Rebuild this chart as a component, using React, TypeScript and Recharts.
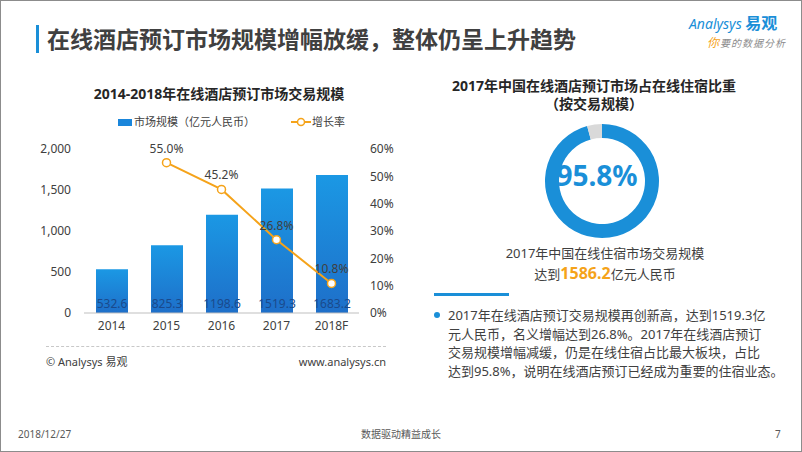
import React from 'react';
import {
  ComposedChart,
  Bar,
  Line,
  XAxis,
  YAxis,
  LabelList,
  PieChart,
  Pie,
  Cell,
} from 'recharts';

const years = ['2014', '2015', '2016', '2017', '2018F'];
const marketSize = [532.6, 825.3, 1198.6, 1519.3, 1683.2];
const growthRate: (number | null)[] = [null, 55.0, 45.2, 26.8, 10.8];
const sizeTicks = [0, 500, 1000, 1500, 2000];
const rateTicks = [0, 10, 20, 30, 40, 50, 60];

const shareNames = ['在线酒店预订', '其他'];
const shareValues = [95.8, 4.2];

const FONT = '"Noto Sans", "Noto Sans CJK SC", sans-serif';
const TEXT = '#404040';
const BLUE = '#1a8fd8';
const ORANGE = '#f5a31a';

const barData = years.map((year, i) => ({
  year,
  size: marketSize[i],
  rate: growthRate[i],
}));

const pieData = shareNames.map((name, i) => ({ name, value: shareValues[i] }));
const pieColors = [BLUE, '#d9d9d9'];

const abs = (left: number, top: number, extra: React.CSSProperties = {}): React.CSSProperties => ({
  position: 'absolute',
  left,
  top,
  whiteSpace: 'nowrap',
  ...extra,
});

export default function App() {
  return (
    <div
      style={{
        position: 'absolute',
        left: 0,
        top: 0,
        width: 802,
        height: 452,
        background: '#fff',
        border: '1px solid #8c8c8c',
        boxSizing: 'border-box',
        fontFamily: FONT,
        color: TEXT,
        overflow: 'hidden',
      }}
    >
      {/* page title */}
      <div style={abs(35, 24, { width: 3, height: 28, background: BLUE })} />
      <div style={abs(46, 22, { fontSize: 23, fontWeight: 700, lineHeight: '32px', color: '#404040' })}>
        在线酒店预订市场规模增幅放缓，整体仍呈上升趋势
      </div>

      {/* logo */}
      <div style={abs(688, 13, { fontSize: 14, color: BLUE, lineHeight: '18px' })}>
        <span style={{ fontStyle: 'italic' }}>Analysys</span>{' '}
        <span style={{ fontWeight: 700, fontSize: 16 }}>易观</span>
      </div>
      <div style={abs(706, 35, { fontSize: 10, fontStyle: 'italic', color: '#8c8c8c', lineHeight: '14px', letterSpacing: 1 })}>
        <span style={{ color: ORANGE, fontSize: 12 }}>你</span>要的数据分析
      </div>

      {/* left chart */}
      <div style={abs(0, 83, { width: 436, textAlign: 'center', fontSize: 14, fontWeight: 700, color: '#262626', lineHeight: '20px' })}>
        2014-2018年在线酒店预订市场交易规模
      </div>
      <div style={abs(117, 113, { fontSize: 11, lineHeight: '16px', display: 'flex', alignItems: 'center' })}>
        <span style={{ display: 'inline-block', width: 14, height: 7, background: '#1a86db', marginRight: 2 }} />
        <span>市场规模（亿元人民币）</span>
        <svg width={20} height={10} style={{ marginLeft: 36, marginRight: 1 }}>
          <line x1={0} y1={5} x2={20} y2={5} stroke={ORANGE} strokeWidth={2} />
          <circle cx={10} cy={5} r={3.5} fill="#fff" stroke={ORANGE} strokeWidth={1.5} />
        </svg>
        <span>增长率</span>
      </div>

      <div style={abs(0, 140)}>
        <ComposedChart
          width={410}
          height={200}
          data={barData}
          margin={{ top: 8, right: 12, bottom: 0, left: 0 }}
        >
          <defs>
            <linearGradient id="barFill" x1="0" y1="0" x2="0" y2="1">
              <stop offset="0%" stopColor="#1b98e4" />
              <stop offset="100%" stopColor="#1e6fc9" />
            </linearGradient>
          </defs>
          <XAxis
            dataKey="year"
            tickLine={false}
            axisLine={{ stroke: '#bfbfbf' }}
            tick={{ fill: TEXT, fontSize: 12 }}
            tickMargin={2}
            height={28}
          />
          <YAxis
            yAxisId="size"
            domain={[0, 2000]}
            ticks={sizeTicks}
            axisLine={false}
            tickLine={false}
            width={83}
            tickMargin={7}
            tick={{ fill: TEXT, fontSize: 12 }}
            tickFormatter={(v: number) => v.toLocaleString('en-US')}
          />
          <YAxis
            yAxisId="rate"
            orientation="right"
            domain={[0, 60]}
            ticks={rateTicks}
            axisLine={false}
            tickLine={false}
            width={40}
            tickMargin={5}
            tick={{ fill: TEXT, fontSize: 12, textAnchor: 'start' }}
            tickFormatter={(v: number) => `${v}%`}
          />
          <Bar yAxisId="size" dataKey="size" barSize={32} fill="url(#barFill)" isAnimationActive={false}>
            <LabelList
              dataKey="size"
              position="insideBottom"
              offset={5}
              fill="#1a4a8c"
              fontSize={12}
              formatter={(v: number) => v.toFixed(1)}
            />
          </Bar>
          <Line
            yAxisId="rate"
            dataKey="rate"
            stroke={ORANGE}
            strokeWidth={2}
            dot={{ r: 4, fill: '#fff', stroke: ORANGE, strokeWidth: 1.5 }}
            isAnimationActive={false}
          >
            <LabelList
              dataKey="rate"
              position="top"
              offset={10}
              fill={TEXT}
              fontSize={12}
              formatter={(v: number | null) => (v == null ? '' : `${v.toFixed(1)}%`)}
            />
          </Line>
        </ComposedChart>
      </div>

      <div style={abs(45, 345, { width: 340, borderTop: '1px dashed #c8c8c8' })} />
      <div style={abs(45, 353, { fontSize: 11, lineHeight: '16px' })}>© Analysys 易观</div>
      <div style={abs(285, 353, { width: 100, textAlign: 'right', fontSize: 11, lineHeight: '16px' })}>
        www.analysys.cn
      </div>

      {/* right panel */}
      <div style={abs(445, 76, { width: 296, textAlign: 'center', fontSize: 14, fontWeight: 700, color: '#262626', lineHeight: '17px' })}>
        2017年中国在线酒店预订市场占在线住宿比重
      </div>
      <div style={abs(445, 94, { width: 296, textAlign: 'center', fontSize: 14, fontWeight: 700, color: '#262626', lineHeight: '17px' })}>
        （按交易规模）
      </div>

      <div style={abs(526, 105)}>
        <PieChart width={140} height={140}>
          <Pie
            data={pieData}
            dataKey="value"
            nameKey="name"
            cx={70}
            cy={70}
            innerRadius={43}
            outerRadius={57}
            startAngle={90}
            endAngle={-270}
            stroke="none"
            isAnimationActive={false}
          >
            {pieData.map((_, i) => (
              <Cell key={`share-${i}`} fill={pieColors[i]} />
            ))}
          </Pie>
        </PieChart>
      </div>
      <div style={abs(526, 156, { width: 140, textAlign: 'center', fontSize: 28, fontWeight: 700, color: BLUE, lineHeight: '36px' })}>
        {shareValues[0].toFixed(1)}%
      </div>

      <div style={abs(484, 243, { width: 240, textAlign: 'center', fontSize: 13, lineHeight: '18px' })}>
        2017年中国在线住宿市场交易规模
      </div>
      <div style={abs(484, 262, { width: 240, textAlign: 'center', fontSize: 13, lineHeight: '20px' })}>
        达到<span style={{ color: ORANGE, fontWeight: 700, fontSize: 16 }}>1586.2</span>亿元人民币
      </div>

      <div style={abs(433, 292, { width: 75, height: 3, background: BLUE })} />
      <div style={abs(433, 311, { width: 6, height: 6, borderRadius: 3, background: BLUE })} />
      <div style={abs(447, 305, { fontSize: 13, lineHeight: '18.5px' })}>
        2017年在线酒店预订交易规模再创新高，达到1519.3亿
        <br />
        元人民币，名义增幅达到26.8%。2017年在线酒店预订
        <br />
        交易规模增幅减缓，仍是在线住宿占比最大板块，占比
        <br />
        达到95.8%，说明在线酒店预订已经成为重要的住宿业态。
      </div>

      {/* footer */}
      <div style={abs(17, 426, { fontSize: 10, color: '#595959', lineHeight: '14px' })}>2018/12/27</div>
      <div style={abs(300, 426, { width: 200, textAlign: 'center', fontSize: 10, color: '#595959', lineHeight: '14px' })}>
        数据驱动精益成长
      </div>
      <div style={abs(774, 426, { fontSize: 10, color: '#595959', lineHeight: '14px' })}>7</div>
    </div>
  );
}
